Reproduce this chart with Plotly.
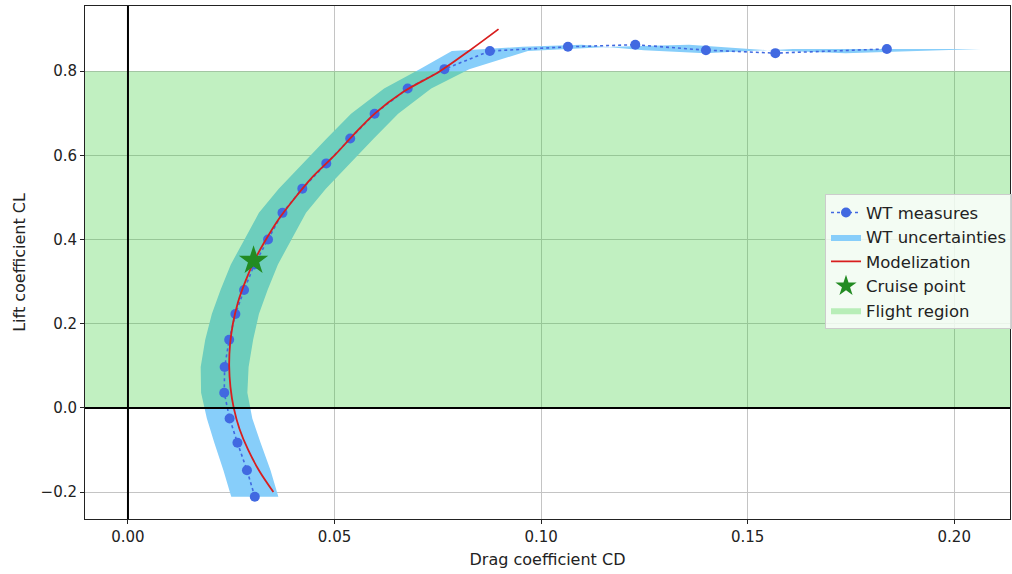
import plotly.graph_objects as go

# Wind tunnel measurements (drag coefficient, lift coefficient)
wt_cd = [0.0307, 0.0288, 0.0265, 0.0246, 0.0233, 0.0234, 0.0245, 0.0260, 0.0281, 0.0306,
         0.0339, 0.0374, 0.0422, 0.0480, 0.0538, 0.0597, 0.0677, 0.0766, 0.0876, 0.1065,
         0.1228, 0.1399, 0.1567, 0.1837]
wt_cl = [-0.211, -0.148, -0.083, -0.025, 0.036, 0.097, 0.162, 0.223, 0.280, 0.341,
         0.400, 0.4635, 0.521, 0.581, 0.640, 0.699, 0.759, 0.805, 0.848, 0.858,
         0.863, 0.850, 0.843, 0.853]
# half-width of the drag uncertainty at each measure
wt_cd_err = [0.0057, 0.0057, 0.0056, 0.0055, 0.0056, 0.0058, 0.0058, 0.0057, 0.0057, 0.0057,
             0.0057, 0.0057, 0.0057, 0.0057, 0.0057, 0.0057, 0.0057, 0.0060, 0.0092, 0.0110,
             0.0130, 0.0150, 0.0170, 0.0227]

# Modelized polar
model_cl = [-0.20, -0.15, -0.10, -0.05, 0.00, 0.05, 0.10, 0.15, 0.20, 0.25, 0.30, 0.35,
            0.40, 0.45, 0.50, 0.55, 0.60, 0.65, 0.70, 0.75, 0.80, 0.85, 0.90]
model_cd = [0.0352, 0.0318, 0.0291, 0.0270, 0.0256, 0.0248, 0.0245, 0.0247, 0.0254, 0.0266,
            0.0284, 0.0306, 0.0334, 0.0366, 0.0405, 0.0448, 0.0500, 0.0547, 0.0598, 0.0665,
            0.0755, 0.0828, 0.0897]

cruise_cd = [0.0304]
cruise_cl = [0.35]

flight_cl = (0.0, 0.8)

x_range = [-0.0104, 0.2135]
y_range = [-0.264, 0.955]

font = "DejaVu Sans"

# uncertainty polygon: left edge going up, right edge coming back down
band_x = [c - e for c, e in zip(wt_cd, wt_cd_err)] + [c + e for c, e in zip(wt_cd, wt_cd_err)][::-1]
band_y = wt_cl + wt_cl[::-1]

fig = go.Figure()

fig.add_trace(go.Scatter(x=band_x, y=band_y, mode='lines', fill='toself', fillcolor='#87cefa',
                         line=dict(width=0, color='#87cefa'), name='WT uncertainties', legendrank=2))

fig.add_trace(go.Scatter(x=[x_range[0], x_range[1], x_range[1], x_range[0]],
                         y=[flight_cl[0], flight_cl[0], flight_cl[1], flight_cl[1]],
                         mode='lines', fill='toself', fillcolor='rgba(50,205,50,0.3)',
                         line=dict(width=0, color='rgba(50,205,50,0.3)'), name='Flight region', legendrank=5))

fig.add_trace(go.Scatter(x=wt_cd, y=wt_cl, mode='lines+markers', name='WT measures',
                         line=dict(color='royalblue', width=1.6, dash='dot'),
                         marker=dict(color='royalblue', size=10), legendrank=1))

fig.add_trace(go.Scatter(x=model_cd, y=model_cl, mode='lines', name='Modelization',
                         line=dict(color='#d81e1e', width=1.8, shape='spline'), legendrank=3))

fig.add_trace(go.Scatter(x=cruise_cd, y=cruise_cl, mode='markers', name='Cruise point',
                         marker=dict(symbol='star', size=22, color='forestgreen', line=dict(width=0)),
                         legendrank=4))

# black axis lines through the origin
fig.add_shape(type='line', xref='x', yref='paper', x0=0, x1=0, y0=0, y1=1,
              line=dict(color='black', width=2), layer='above')
fig.add_shape(type='line', xref='paper', yref='y', x0=0, x1=1, y0=0, y1=0,
              line=dict(color='black', width=2), layer='above')

axis_style = dict(showline=True, linecolor='#222', linewidth=1, mirror=True,
                  showgrid=True, gridcolor='#c4c4c4', gridwidth=1, zeroline=False,
                  ticks='outside', ticklen=4, tickcolor='#222',
                  tickfont=dict(family=font, size=15, color='#222'))

fig.update_xaxes(range=x_range, dtick=0.05, tick0=0, tickformat='.2f',
                 title=dict(text='Drag coefficient CD', font=dict(family=font, size=16, color='#222'),
                            standoff=8), **axis_style)
fig.update_yaxes(range=y_range, dtick=0.2, tick0=0, tickformat='.1f',
                 title=dict(text='Lift coefficient CL', font=dict(family=font, size=16, color='#222'),
                            standoff=10), **axis_style)

fig.update_layout(width=1012, height=574, margin=dict(l=85, r=0, t=6, b=55),
                  plot_bgcolor='white', paper_bgcolor='white',
                  font=dict(family=font, color='#222'),
                  legend=dict(x=0.8, y=0.633, xanchor='left', yanchor='top',
                              bgcolor='rgba(255,255,255,0.8)', bordercolor='#cccccc', borderwidth=1,
                              font=dict(family=font, size=16.5, color='#222'), itemwidth=30,
                              tracegroupgap=0))

# drop the page's default body margin so the figure sits at the window's corner
fig.write_html("out.html", config={'displayModeBar': False},
               post_script="document.body.style.margin='0';")
